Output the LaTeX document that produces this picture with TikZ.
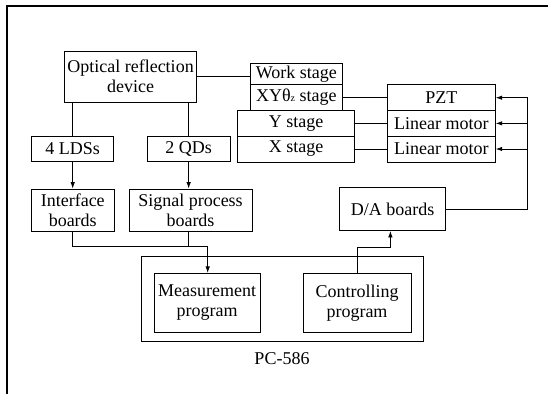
\documentclass[tikz,border=0pt]{standalone}
\usepackage{fontspec}
\setmainfont{Liberation Serif}
\usetikzlibrary{arrows.meta}
\newcommand\dfont{\fontsize{18}{20}\selectfont}
\begin{document}
\begin{tikzpicture}[x=1pt,y=-1pt,
  box/.style={draw, line width=0.8pt, inner sep=0pt, font=\dfont, align=center},
  conn/.style={line width=0.8pt},
  arr/.style={line width=0.8pt, -{Latex[length=6.5pt,width=4.5pt]}},
  frame/.style={line width=2pt}]
\useasboundingbox (0,0) rectangle (548,394);
\draw[frame] (6.7,394) -- (6.7,5.8) -- (548,5.8);
% top block
\node[box, minimum width=132.4pt, minimum height=51pt] (opt) at (130.5,76.5)
  {\fontsize{18}{16}\selectfont Optical reflection\\ device};
\node[box, minimum width=91.3pt, minimum height=20.7pt] (work) at (296.3,74.2) {Work stage};
\node[box, minimum width=91.3pt, minimum height=26.2pt] (xyt) at (296.3,97.6)
  {XYθ{\fontsize{10}{10}\selectfont z} stage};
\node[box, minimum width=117.2pt, minimum height=25.3pt] (ys) at (296.1,123.35) {Y stage};
\node[box, minimum width=117.2pt, minimum height=26pt] (xs) at (296.1,149) {X stage};
\node[box, minimum width=108pt, minimum height=26pt] (pzt) at (441.3,97.7) {PZT};
\node[box, minimum width=108pt, minimum height=25.3pt] (lm1) at (441.3,123.35) {Linear motor};
\node[box, minimum width=108pt, minimum height=26pt] (lm2) at (441.3,149) {Linear motor};
\node[box, minimum width=82pt, minimum height=24.3pt] (lds) at (72.7,148.85) {4 LDSs};
\node[box, minimum width=83.3pt, minimum height=24.3pt] (qds) at (188.65,148.85) {2 QDs};
% middle
\node[box, minimum width=82.5pt, minimum height=42pt] (intf) at (72.75,210) {Interface\\ boards};
\node[box, minimum width=123pt, minimum height=42pt] (sig) at (190.5,210) {Signal process\\ boards};
\node[box, minimum width=106.2pt, minimum height=43pt] (da) at (392.6,209) {D/A boards};
% PC
\node[box, minimum width=282pt, minimum height=85pt] (pc) at (282,298.5) {};
\node[box, minimum width=105.7pt, minimum height=59.4pt] (meas) at (207.15,303) {Measurement\\ program};
\node[box, minimum width=108pt, minimum height=59.4pt] (ctrl) at (357,303) {Controlling\\ program};
\node[font=\dfont, inner sep=0pt] (pclabel) at (282,359) {PC-586};
% connectors
\draw[conn] (opt.east) -- (opt.east -| work.west);
\draw[conn] (xyt.east) -- (xyt.east -| pzt.west);
\draw[conn] (ys.east) -- (ys.east -| lm1.west);
\draw[conn] (xs.east) -- (xs.east -| lm2.west);
\coordinate (bus) at (527.7,97.7);
\draw[conn] (da.east) -- (da.east -| bus) -- (bus);
\draw[arr] (bus) -- (pzt.east);
\draw[arr] (bus |- lm1.east) -- (lm1.east);
\draw[arr] (bus |- lm2.east) -- (lm2.east);
\draw[conn] (opt.south -| lds.north) -- (lds.north);
\draw[conn] (opt.south -| qds.north) -- (qds.north);
\draw[arr] (lds.south) -- (lds.south |- intf.north);
\draw[arr] (qds.south) -- (qds.south |- sig.north);
\coordinate (j) at (207.7,246.7);
\draw[conn] (qds.south |- sig.south) -- (qds.south |- j);
\draw[arr] (intf.south) |- (j) -- (j |- meas.north);
\coordinate (k) at (390.4,247.3);
\draw[arr] (ctrl.north) |- (k) -- (k |- da.south);
\end{tikzpicture}
\end{document}
